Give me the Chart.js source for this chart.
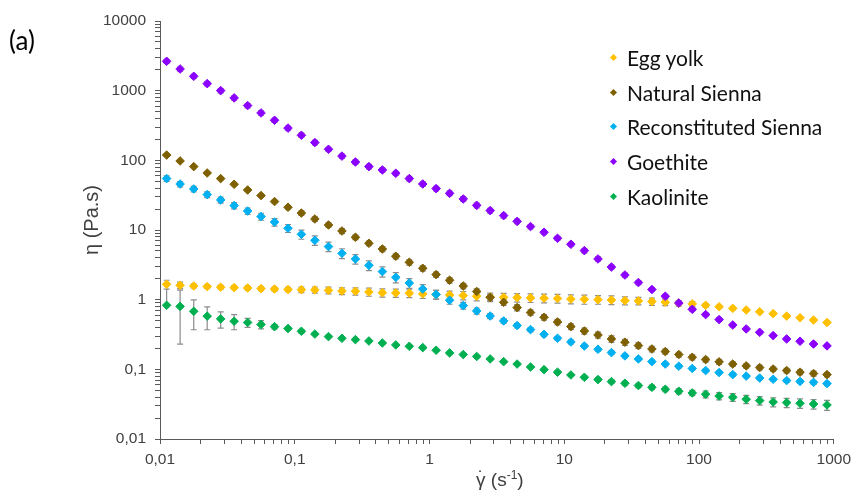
<!DOCTYPE html>
<html>
<head>
<meta charset="utf-8">
<script src="https://cdn.jsdelivr.net/npm/chart.js@4.4.1/dist/chart.umd.min.js"></script>
<style>
  html, body { margin: 0; padding: 0; background: #fff; }
  #wrap { position: relative; width: 857px; height: 495px; }
  #panel { position: absolute; left: 9px; top: 24px; font-family: Lato, sans-serif; font-size: 26px; color: #000; }
  #legend { position: absolute; left: 608px; top: 40px; font-family: Lato, sans-serif; font-size: 21px; color: #111; }
  .item { height: 34.7px; display: flex; align-items: center; }
  .mark { width: 5px; height: 5px; transform: rotate(45deg); margin: 0 11px 0 3px; }
</style>
</head>
<body>
<div id="wrap">
  <canvas id="chart" width="857" height="495"></canvas>
  <div id="panel">(a)</div>
  <div id="legend"></div>
</div>
<script>
// shear rate (s-1), 10 points per decade
const shearRate = [0.0112, 0.0141, 0.0178, 0.0224, 0.0282, 0.0355, 0.0447, 0.0562, 0.0708, 0.0891,
  0.112, 0.141, 0.178, 0.224, 0.282, 0.355, 0.447, 0.562, 0.708, 0.891,
  1.12, 1.41, 1.78, 2.24, 2.82, 3.55, 4.47, 5.62, 7.08, 8.91,
  11.2, 14.1, 17.8, 22.4, 28.2, 35.5, 44.7, 56.2, 70.8, 89.1,
  112, 141, 178, 224, 282, 355, 447, 562, 708, 891];

// viscosity (Pa.s)
const eggYolk = [1.66, 1.61, 1.57, 1.54, 1.51, 1.49, 1.47, 1.44, 1.42, 1.40,
  1.39, 1.38, 1.36, 1.33, 1.32, 1.29, 1.26, 1.25, 1.24, 1.21,
  1.19, 1.17, 1.15, 1.12, 1.09, 1.08, 1.07, 1.06, 1.05, 1.04,
  1.02, 1.01, 1.00, 0.99, 0.97, 0.96, 0.94, 0.92, 0.89, 0.87,
  0.83, 0.79, 0.75, 0.71, 0.67, 0.63, 0.58, 0.55, 0.51, 0.47];
const eggYolkErr = [0.24, 0.17, 0.10, 0.09, 0.09, 0.09, 0.09, 0.09, 0.09, 0.10,
  0.13, 0.14, 0.15, 0.15, 0.16, 0.17, 0.17, 0.17, 0.17, 0.17,
  0.17, 0.16, 0.16, 0.16, 0.15, 0.15, 0.15, 0.15, 0.15, 0.15,
  0.15, 0.15, 0.14, 0.14, 0.13, 0.12, 0.11, 0.10, 0.08, 0.07,
  0.05, 0.04, 0.03, 0.03, 0.02, 0.02, 0.02, 0.02, 0.02, 0.02];

const naturalSienna = [119, 97.9, 81.3, 65.8, 54.7, 45.3, 37.5, 31.2, 25.6, 21.2,
  17.5, 14.4, 11.8, 9.68, 7.86, 6.44, 5.34, 4.20, 3.44, 2.82,
  2.29, 1.90, 1.57, 1.31, 1.08, 0.916, 0.769, 0.653, 0.559, 0.478,
  0.411, 0.355, 0.311, 0.273, 0.245, 0.219, 0.196, 0.180, 0.163, 0.149,
  0.138, 0.128, 0.119, 0.112, 0.106, 0.101, 0.096, 0.091, 0.087, 0.084];
const naturalSiennaErr = [4, 3, 3, 2.5, 2, 2, 1.5, 1.3, 1.1, 1.2,
  1.3, 1.1, 0.9, 0.8, 0.6, 0.5, 0.45, 0.35, 0.3, 0.25,
  0.2, 0.17, 0.14, 0.12, 0.1, 0.09, 0.08, 0.06, 0.05, 0.045,
  0.04, 0.035, 0.03, 0.03, 0.025, 0.02, 0.018, 0.015, 0.013, 0.012,
  0.011, 0.01, 0.009, 0.008, 0.008, 0.007, 0.007, 0.007, 0.007, 0.006];

const reconSienna = [54.7, 45.7, 38.8, 32.2, 27.0, 22.4, 18.7, 15.6, 13.0, 10.6,
  8.67, 7.11, 5.78, 4.63, 3.84, 3.11, 2.53, 2.09, 1.73, 1.42,
  1.19, 0.98, 0.822, 0.689, 0.583, 0.495, 0.425, 0.372, 0.318, 0.279,
  0.247, 0.216, 0.194, 0.174, 0.156, 0.141, 0.129, 0.119, 0.111, 0.103,
  0.096, 0.090, 0.084, 0.080, 0.075, 0.072, 0.069, 0.067, 0.065, 0.0625];
const reconSiennaErr = [5, 4, 3.5, 3, 2.7, 2.3, 2, 1.8, 1.6, 1.4,
  1.3, 1.1, 0.9, 0.75, 0.6, 0.5, 0.42, 0.35, 0.28, 0.22,
  0.17, 0.12, 0.09, 0.07, 0.05, 0.04, 0.03, 0.025, 0.02, 0.017,
  0.015, 0.012, 0.011, 0.01, 0.009, 0.008, 0.007, 0.007, 0.006, 0.006,
  0.005, 0.005, 0.005, 0.004, 0.004, 0.004, 0.004, 0.004, 0.004, 0.004];

const goethite = [2640, 2046, 1607, 1262, 1002, 787, 611, 479, 376, 290,
  229, 180, 144, 115, 94.6, 81.3, 72.7, 65.2, 54.7, 45.8,
  39.3, 33.6, 27.9, 22.6, 19.0, 16.1, 13.3, 11.2, 9.27, 7.60,
  6.24, 5.06, 3.84, 2.94, 2.26, 1.76, 1.40, 1.12, 0.895, 0.727,
  0.611, 0.518, 0.433, 0.380, 0.340, 0.305, 0.273, 0.253, 0.231, 0.217];
const goethiteErr = [180, 140, 110, 90, 70, 55, 43, 34, 26, 20,
  16, 13, 10, 8, 7, 6, 5, 4.5, 4, 3.5,
  3, 2.5, 2.2, 1.8, 1.5, 1.3, 1, 0.8, 0.65, 0.5,
  0.4, 0.35, 0.27, 0.2, 0.15, 0.12, 0.09, 0.07, 0.05, 0.04,
  0.035, 0.03, 0.025, 0.02, 0.018, 0.016, 0.014, 0.013, 0.012, 0.011];

const kaolinite = [0.83, 0.80, 0.68, 0.58, 0.53, 0.49, 0.47, 0.44, 0.41, 0.385,
  0.352, 0.321, 0.295, 0.279, 0.267, 0.255, 0.239, 0.224, 0.214, 0.205,
  0.188, 0.172, 0.163, 0.153, 0.141, 0.129, 0.119, 0.108, 0.099, 0.091,
  0.083, 0.0769, 0.0713, 0.0667, 0.0631, 0.0585, 0.0552, 0.0517, 0.0484, 0.0458,
  0.0439, 0.0414, 0.0397, 0.0372, 0.0356, 0.0340, 0.0333, 0.0326, 0.0318, 0.0308];
const kaoliniteErr = [0.9, 0.57, 0.31, 0.21, 0.14, 0.12, 0.07, 0.06, 0.03, 0.02,
  0.02, 0.015, 0.012, 0.01, 0.01, 0.01, 0.01, 0.009, 0.008, 0.008,
  0.007, 0.007, 0.006, 0.006, 0.005, 0.005, 0.005, 0.004, 0.004, 0.004,
  0.004, 0.004, 0.004, 0.004, 0.004, 0.004, 0.004, 0.004, 0.004, 0.004,
  0.005, 0.005, 0.005, 0.005, 0.005, 0.005, 0.005, 0.005, 0.005, 0.005];

// axis decades and their labels
const xMajor = [0.01, 0.1, 1, 10, 100, 1000];
const xTickLabels = ['0,01', '0,1', '1', '10', '100', '1000'];
const yMajor = [0.01, 0.1, 1, 10, 100, 1000, 10000];
const yTickLabels = ['0,01', '0,1', '1', '10', '100', '1000', '10000'];

const axisColor = '#595959';
const textColor = '#404040';
const tickFont = { family: "'Liberation Sans', Arial, sans-serif", size: 15.5 };

// major ticks plus 2..9 minor ticks in every decade
function logTicks(majors) {
  const out = [];
  majors.forEach((m, i) => {
    out.push({ value: m, major: true });
    if (i < majors.length - 1) {
      for (let k = 2; k <= 9; k++) out.push({ value: m * k, major: false });
    }
  });
  return out;
}

function tickLabel(majors, labels) {
  return function(value) {
    const i = majors.findIndex(m => Math.abs(m - value) / m < 1e-6);
    return i >= 0 ? labels[i] : '';
  };
}

function makeSet(label, values, errs, color, order) {
  return {
    label: label,
    data: shearRate.map((x, i) => ({ x: x, y: values[i] })),
    errors: errs,
    backgroundColor: color,
    borderColor: color,
    pointStyle: 'rectRot',
    pointRadius: 4.3,
    pointBorderWidth: 1,
    showLine: false,
    order: order
  };
}

// error bars, drawn under every marker
const errorBars = {
  id: 'errorBars',
  beforeDatasetsDraw(chart) {
    const { ctx, scales: { x, y } } = chart;
    ctx.save();
    ctx.strokeStyle = '#8c8c8c';
    ctx.lineWidth = 1.2;
    chart.data.datasets.forEach(ds => {
      ds.data.forEach((p, i) => {
        const e = ds.errors[i];
        const px = x.getPixelForValue(p.x);
        const py = y.getPixelForValue(p.y);
        const top = y.getPixelForValue(p.y + e);
        ctx.beginPath();
        ctx.moveTo(px, py);
        ctx.lineTo(px, top);
        ctx.moveTo(px - 3, top);
        ctx.lineTo(px + 3, top);
        if (p.y - e > 0) {
          const bot = y.getPixelForValue(p.y - e);
          ctx.moveTo(px, py);
          ctx.lineTo(px, bot);
          ctx.moveTo(px - 3, bot);
          ctx.lineTo(px + 3, bot);
        }
        ctx.stroke();
      });
    });
    ctx.restore();
  }
};

// x axis title: gamma with a dot over it, then (s^-1)
const xTitle = {
  id: 'xTitle',
  afterDraw(chart) {
    const { ctx, chartArea } = chart;
    const big = "19px 'Liberation Sans', Arial, sans-serif";
    const small = "12px 'Liberation Sans', Arial, sans-serif";
    const base = 486;
    ctx.save();
    ctx.fillStyle = textColor;
    ctx.textBaseline = 'alphabetic';
    ctx.textAlign = 'left';
    ctx.font = big;
    const wG = ctx.measureText('γ').width;
    const wMid = ctx.measureText(' (s').width;
    const wEnd = ctx.measureText(')').width;
    ctx.font = small;
    const wSup = ctx.measureText('-1').width;
    let x = (chartArea.left + chartArea.right) / 2 + 3 - (wG + wMid + wSup + wEnd) / 2;
    ctx.font = big;
    ctx.fillText('γ', x, base);
    ctx.textAlign = 'center';
    ctx.fillText('˙', x + wG / 2, base - 2);
    ctx.textAlign = 'left';
    x += wG;
    ctx.fillText(' (s', x, base);
    x += wMid;
    ctx.font = small;
    ctx.fillText('-1', x, base - 7);
    x += wSup;
    ctx.font = big;
    ctx.fillText(')', x, base);
    ctx.restore();
  }
};

const ctx = document.getElementById('chart').getContext('2d');
const chart = new Chart(ctx, {
  type: 'scatter',
  data: {
    datasets: [
      makeSet('Egg yolk', eggYolk, eggYolkErr, '#FFC000', 4),
      makeSet('Natural Sienna', naturalSienna, naturalSiennaErr, '#7F6000', 3),
      makeSet('Reconstituted Sienna', reconSienna, reconSiennaErr, '#00B0F0', 2),
      makeSet('Goethite', goethite, goethiteErr, '#8B00FF', 1),
      makeSet('Kaolinite', kaolinite, kaoliniteErr, '#00B050', 0)
    ]
  },
  options: {
    responsive: false,
    animation: false,
    layout: { padding: { left: 0, top: 21, right: 18, bottom: 0 } },
    plugins: {
      legend: { display: false },
      tooltip: { enabled: false }
    },
    scales: {
      x: {
        type: 'logarithmic',
        position: 'bottom',
        min: 0.01,
        max: 1000,
        afterBuildTicks: scale => { scale.ticks = logTicks(xMajor); },
        afterFit: scale => { scale.height = 56; },
        grid: { display: true, drawOnChartArea: false, drawTicks: true, tickLength: 5, color: axisColor },
        border: { display: true, color: axisColor, width: 1 },
        ticks: {
          autoSkip: false, maxRotation: 0, padding: 6,
          font: tickFont, color: textColor,
          callback: tickLabel(xMajor, xTickLabels)
        }
      },
      y: {
        type: 'logarithmic',
        position: 'left',
        min: 0.01,
        max: 10000,
        afterBuildTicks: scale => { scale.ticks = logTicks(yMajor); },
        afterFit: scale => { scale.width = 160; },
        grid: { display: true, drawOnChartArea: false, drawTicks: true, tickLength: 5, color: axisColor },
        border: { display: true, color: axisColor, width: 1 },
        ticks: {
          autoSkip: false, padding: 9,
          font: tickFont, color: textColor,
          callback: tickLabel(yMajor, yTickLabels)
        },
        title: {
          display: true, text: '\u2002\u2002η (Pa.s)', color: textColor,
          font: { family: "'Liberation Sans', Arial, sans-serif", size: 20 },
          padding: { top: 80, bottom: 0 }
        }
      }
    }
  },
  plugins: [errorBars, xTitle]
});

// legend inside the plot, built from the datasets
const legend = document.getElementById('legend');
chart.data.datasets.forEach(ds => {
  const row = document.createElement('div');
  row.className = 'item';
  const mark = document.createElement('span');
  mark.className = 'mark';
  mark.style.background = ds.backgroundColor;
  const txt = document.createElement('span');
  txt.textContent = ds.label;
  row.appendChild(mark);
  row.appendChild(txt);
  legend.appendChild(row);
});
</script>
</body>
</html>
